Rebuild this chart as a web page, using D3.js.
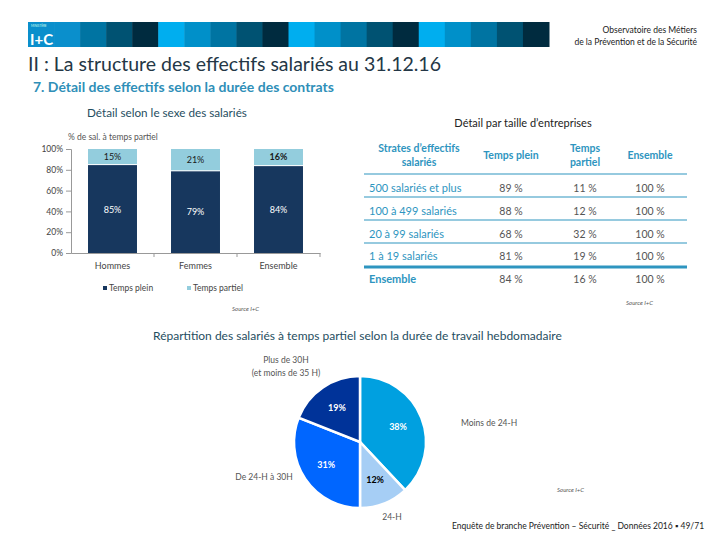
<!DOCTYPE html>
<html><head><meta charset="utf-8">
<script src="https://cdn.jsdelivr.net/npm/d3@7"></script>
<style>body{margin:0;background:#fff}svg{display:block}text{font-family:Lato,"Open Sans",sans-serif}</style>
</head><body>
<svg id="c" width="720" height="540"></svg>
<script>
// ---- data ----
const barCategories = ["Hommes", "Femmes", "Ensemble"];
const tempsPlein = [85, 79, 84];
const tempsPartiel = [15, 21, 16];
const yTicks = [0, 20, 40, 60, 80, 100];

const tableHeaders = ["Strates d’effectifs salariés", "Temps plein", "Temps partiel", "Ensemble"];
const strates = ["500 salariés et plus", "100 à 499 salariés", "20 à 99 salariés", "1 à 19 salariés", "Ensemble"];
const strPlein = [89, 88, 68, 81, 84];
const strPartiel = [11, 12, 32, 19, 16];
const strEnsemble = [100, 100, 100, 100, 100];

const pieLabels = ["Moins de 24-H", "24-H", "De 24-H à 30H", "Plus de 30H (et moins de 35 H)"];
const pieValues = [38, 12, 31, 19];

const svg = d3.select("#c");

// ---- header strip ----
const stripColors = ["#00AEEF", "#0090C9", "#0074A2", "#005272", "#002B3F"];
const stripX = d3.scaleBand().domain(d3.range(20)).range([28, 549]);
svg.append("g").selectAll("rect").data(d3.range(20)).join("rect")
  .attr("x", d => stripX(d)).attr("y", 22).attr("width", stripX.bandwidth() + 0.5).attr("height", 25)
  .attr("fill", d => d < 2 ? "#0A8FCC" : stripColors[d % 5]);
svg.append("text").attr("x", 31).attr("y", 27).attr("font-size", 3).attr("fill", "#cfe").text("MINISTÈRE");
svg.append("text").attr("x", 30).attr("y", 45).attr("font-size", 15).attr("font-family", "Liberation Serif")
  .attr("fill", "#fff").attr("font-weight", "bold").text("I+C");
svg.append("text").attr("x", 697).attr("y", 33).attr("text-anchor", "end").attr("font-size", 8.5).attr("fill", "#222").text("Observatoire des Métiers");
svg.append("text").attr("x", 697).attr("y", 45).attr("text-anchor", "end").attr("font-size", 8.5).attr("fill", "#222").text("de la Prévention et de la Sécurité");

svg.append("text").attr("x", 28).attr("y", 71).attr("font-size", 19.5).attr("fill", "#243746").text("II : La structure des effectifs salariés au 31.12.16");
svg.append("text").attr("x", 33).attr("y", 92).attr("font-size", 14).attr("font-weight", "bold").attr("fill", "#2F8FB8").text("7. Détail des effectifs selon la durée des contrats");

// ---- bar chart ----
svg.append("text").attr("x", 87).attr("y", 117).attr("font-size", 11.7).attr("fill", "#1F4E5F").text("Détail selon le sexe des salariés");
svg.append("text").attr("x", 68).attr("y", 140).attr("font-size", 8.5).attr("fill", "#555").text("% de sal. à temps partiel");

const y = d3.scaleLinear().domain([0, 100]).range([253, 149]);
const x = d3.scaleBand().domain(barCategories).range([71, 320]).paddingInner(0.41).paddingOuter(0.205);

const yAxis = svg.append("g").attr("transform", "translate(71,0)")
  .call(d3.axisLeft(y).tickValues(yTicks).tickFormat(d => d + "%").tickSize(5));
yAxis.select(".domain").attr("stroke", "#999");
yAxis.selectAll(".tick line").attr("stroke", "#999");
yAxis.selectAll(".tick text").attr("font-size", 8.5).attr("fill", "#444").attr("font-family", "Lato");

const xb = d3.scaleBand().domain(barCategories).range([71, 320]);
const xAxis = svg.append("g").attr("transform", "translate(0,253)")
  .call(d3.axisBottom(xb).tickSize(0).tickPadding(10));
xAxis.select(".domain").attr("stroke", "#999");
xAxis.selectAll(".tick text").attr("font-size", 9).attr("fill", "#444").attr("font-family", "Lato");
svg.append("g").selectAll("line").data([1, 2, 3]).join("line")
  .attr("x1", d => 71 + d * xb.step()).attr("x2", d => 71 + d * xb.step())
  .attr("y1", 253).attr("y2", 257).attr("stroke", "#999");

const colPlein = "#17375E", colPartiel = "#93CDDD";
const bars = svg.append("g");
barCategories.forEach((c, i) => {
  bars.append("rect").attr("x", x(c)).attr("width", x.bandwidth())
    .attr("y", y(tempsPlein[i])).attr("height", y(0) - y(tempsPlein[i])).attr("fill", colPlein);
  bars.append("rect").attr("x", x(c)).attr("width", x.bandwidth())
    .attr("y", y(tempsPlein[i] + tempsPartiel[i])).attr("height", y(0) - y(tempsPartiel[i])).attr("fill", colPartiel);
  bars.append("line").attr("x1", x(c)).attr("x2", x(c) + x.bandwidth())
    .attr("y1", y(tempsPlein[i])).attr("y2", y(tempsPlein[i])).attr("stroke", "#fff").attr("stroke-width", 1);
  bars.append("text").attr("x", x(c) + x.bandwidth() / 2).attr("y", y(tempsPlein[i] + tempsPartiel[i] / 2) + 3)
    .attr("text-anchor", "middle").attr("font-size", 9).attr("fill", "#1a1a1a")
    .attr("font-weight", i === 2 ? "bold" : "normal").text(tempsPartiel[i] + "%");
  bars.append("text").attr("x", x(c) + x.bandwidth() / 2).attr("y", 213 + (i === 1 ? 2 : 0))
    .attr("text-anchor", "middle").attr("font-size", 9).attr("fill", "#fff").text(tempsPlein[i] + "%");
});

// legend
const leg = svg.append("g");
[["Temps plein", colPlein, 103], ["Temps partiel", colPartiel, 187]].forEach(([t, col, lx]) => {
  leg.append("rect").attr("x", lx).attr("y", 286).attr("width", 4).attr("height", 4).attr("fill", col);
  leg.append("text").attr("x", lx + 6).attr("y", 291).attr("font-size", 8.5).attr("fill", "#444").text(t);
});
svg.append("text").attr("x", 232).attr("y", 311).attr("font-size", 6).attr("font-style", "italic").attr("fill", "#555").text("Source I+C");

// ---- table ----
const teal = "#2E95C0";
svg.append("text").attr("x", 523).attr("y", 127).attr("text-anchor", "middle").attr("font-size", 11).attr("fill", "#222").text("Détail par taille d’entreprises");
const colX = [419, 511, 585, 650];
const hdr = svg.append("g").attr("font-size", 10.5).attr("font-weight", "bold").attr("fill", teal).attr("text-anchor", "middle");
hdr.append("text").attr("x", colX[0]).attr("y", 152).text("Strates d’effectifs");
hdr.append("text").attr("x", colX[0]).attr("y", 166).text("salariés");
hdr.append("text").attr("x", colX[1]).attr("y", 159).text(tableHeaders[1]);
hdr.append("text").attr("x", colX[2]).attr("y", 152).text("Temps");
hdr.append("text").attr("x", colX[2]).attr("y", 166).text("partiel");
hdr.append("text").attr("x", colX[3]).attr("y", 159).text(tableHeaders[3]);

const rowY = d3.scaleLinear().domain([0, 4]).range([188, 279]);
const lineYs = [174, 197, 220, 243];
svg.append("g").selectAll("line").data(lineYs).join("line")
  .attr("x1", 364).attr("x2", 687).attr("y1", d => d).attr("y2", d => d).attr("stroke", teal).attr("stroke-width", 1.2);
svg.append("line").attr("x1", 364).attr("x2", 687).attr("y1", 267).attr("y2", 267).attr("stroke", teal).attr("stroke-width", 3);

strates.forEach((s, i) => {
  const yy = rowY(i) + 4;
  const last = i === 4;
  svg.append("text").attr("x", 369).attr("y", yy).attr("font-size", 11).attr("fill", teal)
    .attr("font-weight", last ? "bold" : "normal").text(s);
  [strPlein[i], strPartiel[i], strEnsemble[i]].forEach((v, j) => {
    svg.append("text").attr("x", colX[j + 1]).attr("y", yy).attr("text-anchor", "middle")
      .attr("font-size", 10.5).attr("fill", "#555").text(v + " %");
  });
});
svg.append("text").attr("x", 626).attr("y", 305).attr("font-size", 6).attr("font-style", "italic").attr("fill", "#555").text("Source I+C");

// ---- pie ----
svg.append("text").attr("x", 153).attr("y", 340).attr("font-size", 12).attr("fill", "#1F4E5F")
  .text("Répartition des salariés à temps partiel selon la durée de travail hebdomadaire");
const pieColors = ["#00A0E0", "#A6CEF5", "#0066FF", "#003399"];
const pie = d3.pie().sort(null).value(d => d)(pieValues);
const R = 66;
const arc = d3.arc().innerRadius(0).outerRadius(R);
const pg = svg.append("g").attr("transform", "translate(360,442)");
pg.selectAll("path").data(pie).join("path").attr("d", arc)
  .attr("fill", (d, i) => pieColors[i]).attr("stroke", "#fff").attr("stroke-width", 2.5);
const labArc = d3.arc().innerRadius(R * 0.62).outerRadius(R * 0.62);
pg.selectAll("text.v").data(pie).join("text").attr("class", "v")
  .attr("transform", d => `translate(${labArc.centroid(d)})`).attr("dy", 3)
  .attr("text-anchor", "middle").attr("font-size", 9).attr("font-weight", "bold")
  .attr("fill", (d, i) => i === 1 ? "#000" : "#fff").text(d => d.value + "%");
const outer = svg.append("g").attr("font-size", 8.5).attr("fill", "#555");
outer.append("text").attr("x", 461).attr("y", 426).text(pieLabels[0]);
outer.append("text").attr("x", 392).attr("y", 520).attr("text-anchor", "middle").text(pieLabels[1]);
outer.append("text").attr("x", 264).attr("y", 480).attr("text-anchor", "middle").text(pieLabels[2]);
outer.append("text").attr("x", 286).attr("y", 363).attr("text-anchor", "middle").text("Plus de 30H");
outer.append("text").attr("x", 286).attr("y", 376).attr("text-anchor", "middle").text("(et moins de 35 H)");
svg.append("text").attr("x", 557).attr("y", 492).attr("font-size", 6).attr("font-style", "italic").attr("fill", "#555").text("Source I+C");

// footer
svg.append("text").attr("x", 452).attr("y", 529).attr("font-size", 8.5).attr("fill", "#222")
  .text("Enquête de branche Prévention – Sécurité _ Données 2016  ▪  49/71");
</script>
</body></html>
